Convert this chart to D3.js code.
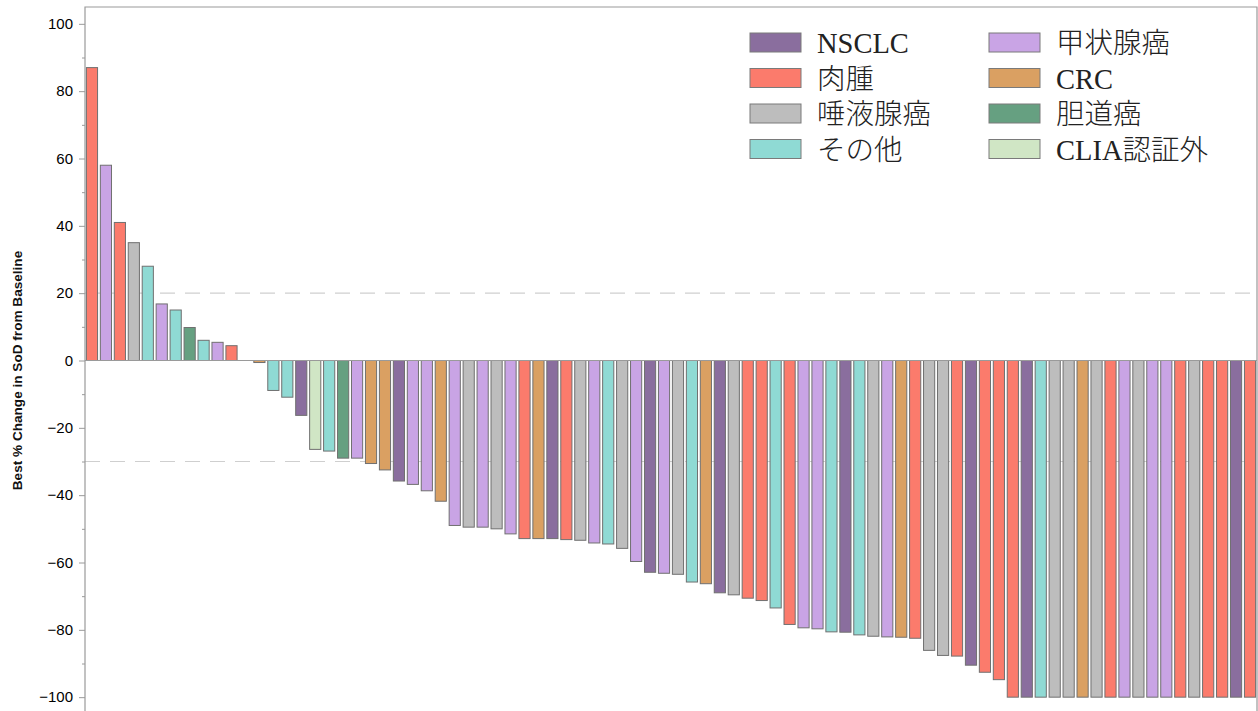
<!DOCTYPE html>
<html>
<head>
<meta charset="utf-8">
<script src="https://cdn.jsdelivr.net/npm/d3@7"></script>
<style>
  html, body { margin: 0; padding: 0; background: #fff; }
  svg { display: block; }
</style>
</head>
<body>
<div id="chart"></div>
<script>
// categories (legend order) and their colours
const categories = ['NSCLC', '肉腫', '唾液腺癌', 'その他', '甲状腺癌', 'CRC', '胆道癌', 'CLIA認証外'];
const categoryColors = ['#8a6e9e', '#fb7b6c', '#bdbdbd', '#8fdad4', '#c9a4e5', '#daa062', '#66a081', '#d0e6c5'];

// best % change per patient, left to right
const values = [
  87, 58, 41, 35, 28, 16.8, 15, 9.8, 6, 5.4, 4.4, 0, -0.6,
  -8.9, -10.9, -16.3, -26.4, -26.9, -29, -29, -30.6, -32.5, -35.8, -36.8, -38.7, -41.8,
  -49, -49.5, -49.5, -50, -51.5, -52.9, -52.9, -52.9, -53.2, -53.4, -54.2, -54.5, -55.8,
  -59.7, -62.9, -63.2, -63.5, -65.8, -66.3, -69, -69.6, -70.6, -71.3, -73.5,
  -78.4, -79.4, -79.7, -80.6, -80.7, -81.5, -81.9, -82.1, -82.2, -82.5,
  -86.1, -87.6, -87.8, -90.5, -92.6, -94.8,
  -100, -100, -100, -100, -100, -100, -100, -100, -100, -100, -100, -100, -100, -100, -100, -100, -100, -100
];

// tumour type per patient, same order as values
const types = [
  '肉腫', '甲状腺癌', '肉腫', '唾液腺癌', 'その他', '甲状腺癌', 'その他', '胆道癌', 'その他', '甲状腺癌', '肉腫', 'その他', 'CRC',
  'その他', 'その他', 'NSCLC', 'CLIA認証外', 'その他', '胆道癌', '甲状腺癌', 'CRC', 'CRC', 'NSCLC', '甲状腺癌', '甲状腺癌', 'CRC',
  '甲状腺癌', '唾液腺癌', '甲状腺癌', '唾液腺癌', '甲状腺癌', '肉腫', 'CRC', 'NSCLC', '肉腫', '唾液腺癌', '甲状腺癌', 'その他', '唾液腺癌',
  '甲状腺癌', 'NSCLC', '甲状腺癌', '唾液腺癌', 'その他', 'CRC', 'NSCLC', '唾液腺癌', '肉腫', '肉腫', 'その他',
  '肉腫', '甲状腺癌', '甲状腺癌', 'その他', 'NSCLC', 'その他', '唾液腺癌', '甲状腺癌', 'CRC', '肉腫',
  '唾液腺癌', '唾液腺癌', '肉腫', 'NSCLC', '肉腫', '肉腫',
  '肉腫', 'NSCLC', 'その他', '唾液腺癌', '唾液腺癌', 'CRC', '唾液腺癌', '肉腫', '甲状腺癌', '唾液腺癌', '甲状腺癌', '甲状腺癌', '肉腫', '唾液腺癌', '肉腫', '肉腫', 'NSCLC', '肉腫'
];

const majorTicks = [-100, -80, -60, -40, -20, 0, 20, 40, 60, 80, 100];
const minorTicks = [-90, -70, -50, -30, -10, 10, 30, 50, 70, 90];
const refLines = [20, -30];
const yTitle = 'Best % Change in SoD from Baseline';

const width = 1258, height = 711;
const plotLeft = 85, plotRight = 1257, plotTop = 7, plotBottom = 714;

const svg = d3.select('#chart').append('svg')
  .attr('width', width)
  .attr('height', height)
  .style('background', '#fff');

const x = d3.scaleBand()
  .domain(d3.range(values.length))
  .range([plotLeft, plotRight])
  .paddingInner(0.2)
  .paddingOuter(0.1);

const y = d3.scaleLinear()
  .domain([-105, 105])
  .range([plotBottom, plotTop]);

const color = d3.scaleOrdinal().domain(categories).range(categoryColors);

// reference lines
svg.append('g')
  .selectAll('line')
  .data(refLines)
  .join('line')
  .attr('x1', plotLeft)
  .attr('x2', plotRight)
  .attr('y1', d => y(d))
  .attr('y2', d => y(d))
  .attr('stroke', '#cfcfcf')
  .attr('stroke-width', 1.2)
  .attr('stroke-dasharray', '15,10');

// bars
svg.append('g')
  .selectAll('rect')
  .data(values)
  .join('rect')
  .attr('x', (d, i) => x(i))
  .attr('width', x.bandwidth())
  .attr('y', d => y(Math.max(0, d)))
  .attr('height', d => Math.abs(y(d) - y(0)))
  .attr('fill', (d, i) => color(types[i]))
  .attr('stroke', '#707070')
  .attr('stroke-width', 1);

// zero line
svg.append('line')
  .attr('x1', plotLeft).attr('x2', plotRight)
  .attr('y1', y(0)).attr('y2', y(0))
  .attr('stroke', '#9a9a9a')
  .attr('stroke-width', 1);

// frame
svg.append('path')
  .attr('d', `M${plotLeft},${height}V${plotTop}H${plotRight}V${height}`)
  .attr('fill', 'none')
  .attr('stroke', '#9a9a9a')
  .attr('stroke-width', 1.2);

// y axis
const yAxis = svg.append('g')
  .attr('transform', `translate(${plotLeft},0)`)
  .call(d3.axisLeft(y).tickValues(majorTicks).tickSize(6).tickPadding(6).tickFormat(d3.format('d')));
yAxis.select('.domain').remove();
yAxis.selectAll('line').attr('stroke', '#9a9a9a');
yAxis.selectAll('text')
  .attr('fill', '#000')
  .style('font-family', '"Liberation Sans", Arial, sans-serif')
  .style('font-size', '15px');

const yMinor = svg.append('g')
  .attr('transform', `translate(${plotLeft},0)`)
  .call(d3.axisLeft(y).tickValues(minorTicks).tickSize(3).tickFormat(''));
yMinor.select('.domain').remove();
yMinor.selectAll('line').attr('stroke', '#9a9a9a');

svg.append('text')
  .attr('transform', `translate(22,${y(0) + 10}) rotate(-90)`)
  .attr('text-anchor', 'middle')
  .attr('fill', '#111')
  .style('font-family', '"Liberation Sans", Arial, sans-serif')
  .style('font-size', '13.6px')
  .style('font-weight', 'bold')
  .text(yTitle);

// legend, two columns of four
const legend = svg.append('g');
const legendItems = legend.selectAll('g')
  .data(categories)
  .join('g')
  .attr('transform', (d, i) => `translate(${i < 4 ? 750 : 989},${33 + (i % 4) * 35.5})`);

legendItems.append('rect')
  .attr('width', 51)
  .attr('height', 19)
  .attr('fill', d => color(d))
  .attr('stroke', '#7a7a7a')
  .attr('stroke-width', 1);

legendItems.append('text')
  .attr('x', 67)
  .attr('y', 20)
  .attr('fill', '#222')
  .style('font-family', '"Liberation Serif", "Times New Roman", "Noto Sans CJK JP", serif')
  .style('font-size', '28.5px')
  .style('font-weight', '300')
  .text(d => d);
</script>
</body>
</html>
